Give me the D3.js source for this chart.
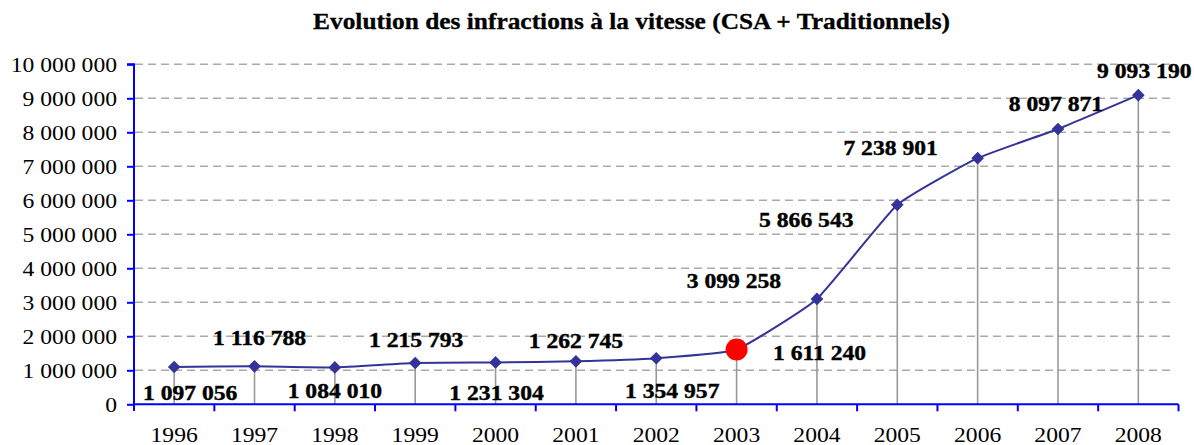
<!DOCTYPE html>
<html><head><meta charset="utf-8">
<script src="https://cdn.jsdelivr.net/npm/d3@7"></script>
<style>
body{margin:0;background:#fff;}
svg{display:block;}
</style></head>
<body>
<svg id="c" width="1194" height="445"></svg>
<script>
const years = ["1996","1997","1998","1999","2000","2001","2002","2003","2004","2005","2006","2007","2008"];
const values = [1097056,1116788,1084010,1215793,1231304,1262745,1354957,1611240,3099258,5866543,7238901,8097871,9093190];
const yTicks = [0,1000000,2000000,3000000,4000000,5000000,6000000,7000000,8000000,9000000,10000000];
const highlightYear = "2003";
const title = "Evolution des infractions à la vitesse (CSA + Traditionnels)";
// label offsets (layout): dx from point center, dy baseline from point
const labelOffsets = [[16,33],[5,-21],[0,31],[1,-16],[1,38],[0,-13],[16,40],[83,10],[-83,-11],[-91,22],[-87,-3],[-2,-18],[6,-17]];

const FONT = "'Liberation Serif','Times New Roman',serif";
const svg = d3.select("#c");
const x = d3.scaleBand().domain(years).range([134,1178.5]).padding(0);
const y = d3.scaleLinear().domain([0,10000000]).range([404.3,64.3]);
const fmt = v => d3.format(",")(v).replace(/,/g," ");
const STRETCH = 1.18;
function stretch(sel){ sel.each(function(){ const l=this.getComputedTextLength(); d3.select(this).attr("textLength", l*STRETCH).attr("lengthAdjust","spacingAndGlyphs"); }); }

// gridlines
svg.append("g").selectAll("line").data(yTicks.filter(d=>d>0)).join("line")
  .attr("x1",135).attr("x2",1171).attr("y1",d=>y(d)).attr("y2",d=>y(d))
  .attr("stroke","#aaaaaa").attr("stroke-width",1.4).attr("stroke-dasharray","8,5");

// drop lines
svg.append("g").selectAll("line").data(values).join("line")
  .attr("x1",(d,i)=>x(years[i])+x.bandwidth()/2).attr("x2",(d,i)=>x(years[i])+x.bandwidth()/2)
  .attr("y1",d=>y(d)).attr("y2",y(0))
  .attr("stroke","#999999").attr("stroke-width",1.6);

// axes
const yAxis = d3.axisLeft(y).tickValues(yTicks).tickSize(7).tickFormat(fmt);
const gy = svg.append("g").attr("transform","translate(134,0)").call(yAxis);
gy.select(".domain").attr("stroke","#0000ff").attr("stroke-width",2).attr("d","M-7,64.3H0V411");
gy.selectAll(".tick line").attr("stroke","#0000ff").attr("stroke-width",2);
gy.selectAll(".tick text").attr("font-size",20).attr("x",-17).attr("dy","0.34em")
  .style("font-family",FONT).attr("fill","#000");
stretch(gy.selectAll(".tick text"));

const gx = svg.append("g");
gx.append("line").attr("x1",134).attr("x2",1178.5).attr("y1",y(0)).attr("y2",y(0)).attr("stroke","#0000ff").attr("stroke-width",2);
gx.selectAll("line.t").data(years).join("line").attr("class","t")
  .attr("x1",d=>x(d)+x.bandwidth()).attr("x2",d=>x(d)+x.bandwidth())
  .attr("y1",y(0)).attr("y2",y(0)+7).attr("stroke","#0000ff").attr("stroke-width",2);
const xt = gx.selectAll("text").data(years).join("text")
  .attr("x",d=>x(d)+x.bandwidth()/2).attr("y",442).attr("text-anchor","middle")
  .attr("font-size",20).style("font-family",FONT).attr("fill","#000").text(d=>d);
stretch(xt);

// line
const line = d3.line().x((d,i)=>x(years[i])+x.bandwidth()/2).y(d=>y(d)).curve(d3.curveCardinal.tension(0.6));
svg.append("path").datum(values).attr("d",line).attr("fill","none").attr("stroke","#333399").attr("stroke-width",2);

// markers
const diamond = d3.symbol().type(d3.symbolSquare).size(80);
svg.append("g").selectAll("path").data(values.map((v,i)=>({v,yr:years[i]})).filter(d=>d.yr!==highlightYear)).join("path")
  .attr("d",diamond())
  .attr("transform",d=>`translate(${x(d.yr)+x.bandwidth()/2},${y(d.v)}) rotate(45)`)
  .attr("fill","#333399");
const hi = years.indexOf(highlightYear);
svg.append("circle").attr("cx",x(highlightYear)+x.bandwidth()/2).attr("cy",y(values[hi])).attr("r",11).attr("fill","#ff0000");

// data labels
const lab = svg.append("g").selectAll("text").data(values).join("text")
  .attr("x",(d,i)=>x(years[i])+x.bandwidth()/2+labelOffsets[i][0])
  .attr("y",(d,i)=>y(d)+labelOffsets[i][1])
  .attr("text-anchor","middle").attr("font-size",20).attr("font-weight","bold")
  .style("font-family",FONT).attr("fill","#000").attr("stroke","#000").attr("stroke-width",0.4).text(d=>fmt(d));
stretch(lab);

// title
const t = svg.append("text").attr("x",631.5).attr("y",28.5).attr("text-anchor","middle")
  .attr("font-size",23).attr("font-weight","bold").style("font-family",FONT).attr("fill","#000")
  .attr("stroke","#000").attr("stroke-width",0.3).text(title);
t.attr("textLength",637).attr("lengthAdjust","spacingAndGlyphs");
</script>
</body></html>
